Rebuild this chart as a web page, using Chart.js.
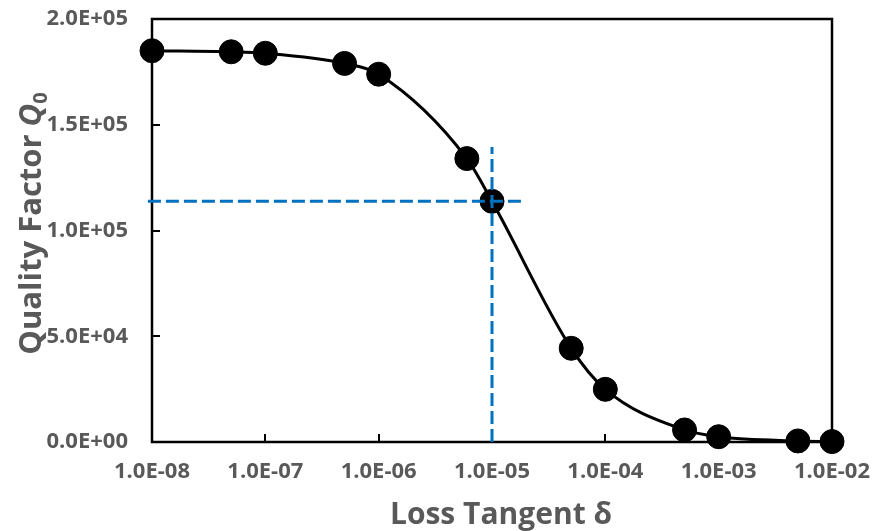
<!DOCTYPE html>
<html>
<head>
<meta charset="utf-8">
<script src="https://cdn.jsdelivr.net/npm/chart.js@4"></script>
<style>
  html, body { margin: 0; padding: 0; background: #fff; }
  #c { display: block; }
</style>
</head>
<body>
<canvas id="c" width="875" height="531"></canvas>
<script>
// ---- Data ----
const lossTangent = [1e-8, 5e-8, 1e-7, 5e-7, 1e-6, 6e-6, 1e-5, 5e-5, 1e-4, 5e-4, 1e-3, 5e-3, 1e-2];
const qualityFactor = [185000, 184500, 183800, 179000, 173900, 134000, 113800, 44300, 24900, 5700, 2500, 500, 200];

// dashed guide lines
const guideHX = [9.2e-9, 1.95e-5];
const guideHY = [113800, 113800];
const guideVX = [1e-5, 1e-5];
const guideVY = [0, 139500];

// ticks
const xTickValues = [1e-8, 1e-7, 1e-6, 1e-5, 1e-4, 1e-3, 1e-2];
const xTickLabels = ['1.0E-08', '1.0E-07', '1.0E-06', '1.0E-05', '1.0E-04', '1.0E-03', '1.0E-02'];
const yTickValues = [0, 50000, 100000, 150000, 200000];
const yTickLabels = ['0.0E+00', '5.0E+04', '1.0E+05', '1.5E+05', '2.0E+05'];

const xTitle = 'Loss Tangent δ';
const yTitleMain = 'Quality Factor ';
const yTitleSym = 'Q';
const yTitleSub = '0';

const GRAY = '#595959';
const FONT = '"Open Sans", "Noto Sans", sans-serif';

const zeroPad = s => { s.paddingTop = 0; s.paddingBottom = 0; s.paddingLeft = 0; s.paddingRight = 0; };

const framePlugin = {
  id: 'frame',
  beforeDatasetsDraw(chart) {
    const { ctx, chartArea: a, scales: { x, y } } = chart;
    ctx.save();
    ctx.strokeStyle = '#000';
    ctx.lineWidth = 2.5;
    ctx.strokeRect(a.left, a.top, a.right - a.left, a.bottom - a.top);
    ctx.lineWidth = 2;
    ctx.beginPath();
    y.ticks.forEach(t => {
      const py = Math.round(y.getPixelForValue(t.value));
      ctx.moveTo(a.left, py); ctx.lineTo(a.left + 8, py);
    });
    x.ticks.forEach(t => {
      const px = Math.round(x.getPixelForValue(t.value));
      ctx.moveTo(px, a.bottom); ctx.lineTo(px, a.bottom - 8);
    });
    ctx.stroke();
    ctx.restore();
  },
  afterDraw(chart) {
    const { ctx, chartArea: a } = chart;
    ctx.save();
    ctx.fillStyle = GRAY;
    // x title
    ctx.font = 'bold 30px ' + FONT;
    ctx.textAlign = 'center';
    ctx.textBaseline = 'alphabetic';
    ctx.fillText(xTitle, (a.left + a.right) / 2 + 9, 524);
    // y title
    const fMain = 'bold 31px ' + FONT;
    const fSym = 'italic bold 31px ' + FONT;
    const fSub = 'bold 20px ' + FONT;
    ctx.font = fMain; const w1 = ctx.measureText(yTitleMain).width;
    ctx.font = fSym; const w2 = ctx.measureText(yTitleSym).width;
    ctx.font = fSub; const w3 = ctx.measureText(yTitleSub).width;
    const W = w1 + w2 + w3;
    ctx.translate(41, (a.top + a.bottom) / 2 - 7);
    ctx.rotate(-Math.PI / 2);
    ctx.textAlign = 'left';
    let px = -W / 2;
    ctx.font = fMain; ctx.fillText(yTitleMain, px, 0); px += w1;
    ctx.font = fSym; ctx.fillText(yTitleSym, px, 0); px += w2;
    ctx.font = fSub; ctx.fillText(yTitleSub, px, 6);
    ctx.restore();
  }
};

new Chart(document.getElementById('c'), {
  type: 'line',
  data: {
    datasets: [
      {
        data: guideHX.map((v, i) => ({ x: v, y: guideHY[i] })),
        borderColor: '#0070C0', borderWidth: 3, borderDash: [13, 5],
        pointRadius: 0, tension: 0, clip: false, order: 0
      },
      {
        data: guideVX.map((v, i) => ({ x: v, y: guideVY[i] })),
        borderColor: '#0070C0', borderWidth: 3, borderDash: [13, 5],
        pointRadius: 0, tension: 0, clip: false, order: 0
      },
      {
        data: lossTangent.map((v, i) => ({ x: v, y: qualityFactor[i] })),
        borderColor: '#000', borderWidth: 3,
        pointRadius: 12, pointBackgroundColor: '#000', pointBorderColor: '#000', pointBorderWidth: 1,
        cubicInterpolationMode: 'monotone', clip: false, order: 1
      }
    ]
  },
  options: {
    responsive: false,
    animation: false,
    layout: { padding: { top: 19, right: 43, left: 0, bottom: 0 } },
    plugins: { legend: { display: false }, tooltip: { enabled: false } },
    scales: {
      x: {
        type: 'logarithmic',
        min: 1e-8, max: 1e-2,
        offset: false,
        grid: { display: false, drawTicks: false },
        border: { display: false },
        afterBuildTicks: s => { s.ticks = xTickValues.map(v => ({ value: v })); },
        afterFit: s => { s.height = 89; zeroPad(s); },
        ticks: {
          color: GRAY, padding: 17, maxRotation: 0, autoSkip: false,
          font: { family: FONT, size: 22, weight: 'bold' },
          callback: (v, i) => xTickLabels[i]
        }
      },
      y: {
        min: 0, max: 200000,
        grid: { display: false, drawTicks: false },
        border: { display: false },
        afterBuildTicks: s => { s.ticks = yTickValues.map(v => ({ value: v })); },
        afterFit: s => { s.width = 152; zeroPad(s); },
        ticks: {
          color: GRAY, padding: 24,
          font: { family: FONT, size: 22, weight: 'bold' },
          callback: (v, i) => yTickLabels[i]
        }
      }
    }
  },
  plugins: [framePlugin]
});
</script>
</body>
</html>
